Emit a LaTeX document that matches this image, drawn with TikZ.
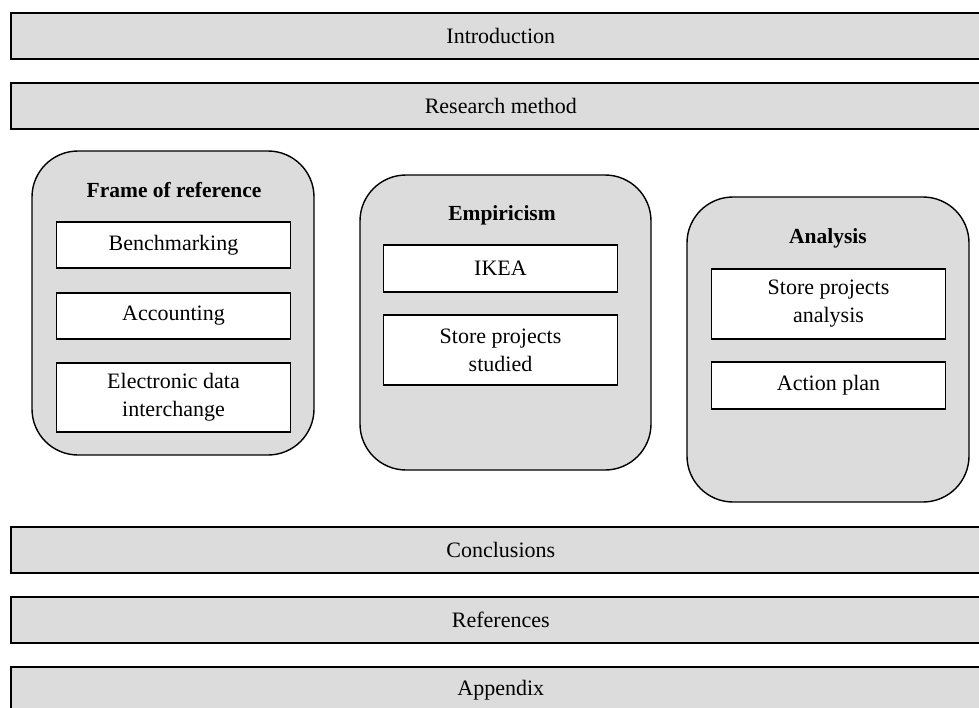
\documentclass[tikz,border=0pt]{standalone}
\usepackage{fontspec}
\setmainfont{Liberation Serif}
\definecolor{panelgray}{RGB}{220,220,220}
\begin{document}
\begin{tikzpicture}[x=1pt,y=-1pt,
  every node/.style={font=\fontsize{22}{28}\selectfont},
  bar/.style={draw=black, line width=1.6pt, fill=panelgray, minimum width=980pt,
    minimum height=46pt, inner sep=0pt, anchor=north west},
  group/.style={draw=black, line width=1.4pt, fill=panelgray, rounded corners=46pt,
    inner sep=0pt},
  item/.style={draw=black, line width=1.4pt, fill=white, align=center,
    minimum width=234pt, inner sep=0pt},
  heading/.style={font=\fontsize{21.5}{26}\selectfont\bfseries, anchor=base}]
\useasboundingbox (0,0) rectangle (979,707);
\clip (0,0) rectangle (979,707);

% full-width chapter bars
\node[bar] (intro) at (10,12) {Introduction};
\node[bar] (method) at (10,82) {Research method};
\node[bar] (concl) at (10,526) {Conclusions};
\node[bar] (refs) at (10,596) {References};
\node[bar] (appx) at (10,666) {Appendix};

% rounded groups
\node[group, minimum width=282pt, minimum height=304pt] (frame) at (173,303) {};
\node[group, minimum width=291pt, minimum height=295pt] (emp) at (505.5,322.5) {};
\node[group, minimum width=282pt, minimum height=305pt] (ana) at (828,349.5) {};

% group headings
\node[heading] (frameT) at (174,197) {Frame of reference};
\node[heading] (empT) at (502,220) {Empiricism};
\node[heading] (anaT) at (828,243) {Analysis};

% items inside the groups
\node[item, minimum height=46pt] (bench) at (173.5,245) {Benchmarking};
\node[item, minimum height=46pt] (acc) at (173.5,316) {Accounting};
\node[item, minimum height=69pt] (edi) at (173.5,397.5) {Electronic data\\interchange};

\node[item, minimum height=47pt] (ikea) at (500.5,268.5) {IKEA};
\node[item, minimum height=70pt] (studied) at (500.5,350) {Store projects\\studied};

\node[item, minimum height=70pt] (spa) at (828.5,304) {Store projects\\analysis};
\node[item, minimum height=47pt] (plan) at (828.5,385.5) {Action plan};
\end{tikzpicture}
\end{document}
